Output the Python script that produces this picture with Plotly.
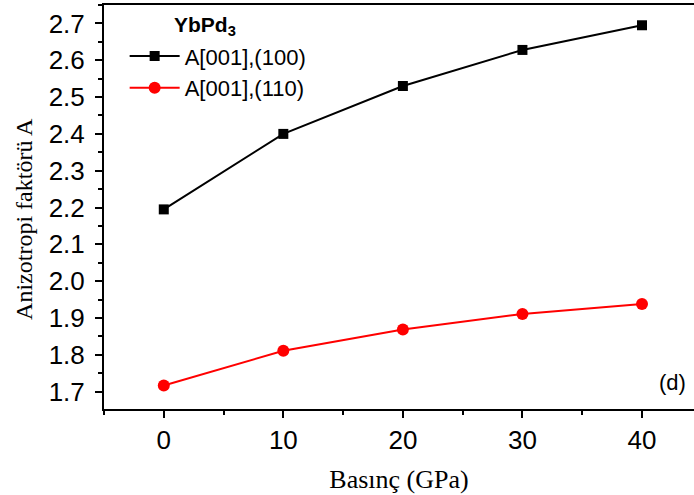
import plotly.graph_objects as go

# Pressure (GPa) and anisotropy factors for YbPd3
pressure = [0, 10, 20, 30, 40]
a_100 = [2.195, 2.400, 2.530, 2.628, 2.695]
a_110 = [1.717, 1.811, 1.869, 1.911, 1.938]

series_names = ["A[001],(100)", "A[001],(110)"]

fig = go.Figure()
fig.add_trace(go.Scatter(
    x=pressure, y=a_100, name=series_names[0], mode="lines+markers",
    line=dict(color="black", width=2),
    marker=dict(symbol="square", size=10, color="black"),
))
fig.add_trace(go.Scatter(
    x=pressure, y=a_110, name=series_names[1], mode="lines+markers",
    line=dict(color="#ff0000", width=2),
    marker=dict(symbol="circle", size=12, color="#ff0000"),
))

tick_font = dict(family="Liberation Sans, Arial", size=26, color="black")
serif = "Liberation Serif, Times New Roman"

fig.update_layout(
    width=694, height=495,
    margin=dict(l=104, r=0, t=5, b=86),
    paper_bgcolor="white", plot_bgcolor="white",
    showlegend=True,
    legend=dict(
        x=0.035, y=0.925, xanchor="left", yanchor="top",
        bgcolor="rgba(0,0,0,0)",
        font=dict(family="Liberation Sans, Arial", size=22, color="black"),
        tracegroupgap=0, itemwidth=50,
    ),
    xaxis=dict(
        range=[-5, 44.35], tickvals=[0, 10, 20, 30, 40],
        showgrid=False, zeroline=False,
        showline=True, linecolor="black", linewidth=2, mirror=True,
        ticks="outside", ticklen=7, tickwidth=2, tickcolor="black",
        minor=dict(tickvals=[-5, 5, 15, 25, 35], ticks="outside", ticklen=4,
                   tickwidth=2, tickcolor="black"),
        tickfont=tick_font,
        title=dict(text="Basınç (GPa)", font=dict(family=serif, size=26, color="black"),
                   standoff=16),
    ),
    yaxis=dict(
        range=[1.653, 2.75],
        tickvals=[1.7, 1.8, 1.9, 2.0, 2.1, 2.2, 2.3, 2.4, 2.5, 2.6, 2.7],
        ticktext=["1.7", "1.8", "1.9", "2.0", "2.1", "2.2", "2.3", "2.4", "2.5", "2.6", "2.7"],
        showgrid=False, zeroline=False,
        showline=True, linecolor="black", linewidth=2,
        ticks="outside", ticklen=7, tickwidth=2, tickcolor="black",
        minor=dict(dtick=0.05, tick0=1.65, ticks="outside", ticklen=4,
                   tickwidth=2, tickcolor="black"),
        tickfont=tick_font, ticklabelstandoff=5,
    ),
)

# Vertical axis title, placed as a rotated annotation
fig.add_annotation(
    text="Anizotropi faktörü A", xref="paper", yref="paper",
    x=-0.136, y=0.47, xanchor="center", yanchor="middle", textangle=-90,
    showarrow=False, font=dict(family=serif, size=24, color="black"),
)
fig.add_annotation(
    text="<b>YbPd<sub>3</sub></b>", xref="paper", yref="paper",
    x=0.115, y=0.985, xanchor="left", yanchor="top", showarrow=False,
    font=dict(family="Liberation Sans, Arial", size=21, color="black"),
)
fig.add_annotation(
    text="(d)", xref="paper", yref="paper",
    x=0.99, y=0.03, xanchor="right", yanchor="bottom", showarrow=False,
    font=dict(family="Liberation Sans, Arial", size=22, color="black"),
)

fig.write_html("out.html")
